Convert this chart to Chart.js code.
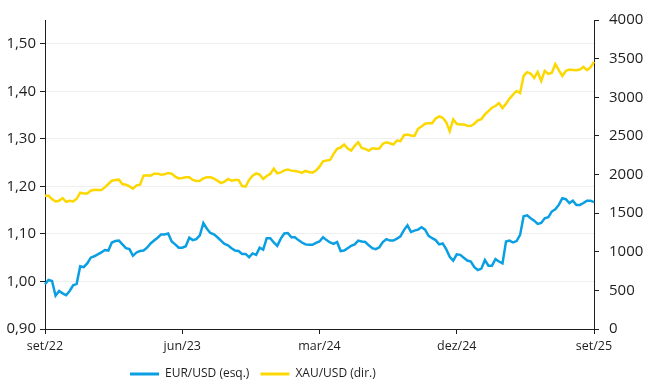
<!DOCTYPE html>
<html>
<head>
<meta charset="utf-8">
<script src="https://cdn.jsdelivr.net/npm/chart.js@4"></script>
<style>
  html, body { margin: 0; padding: 0; background: #fff; }
</style>
</head>
<body>
<canvas id="chart" width="650" height="390"></canvas>
<script>
// weekly closes, set/22 -> set/25 (157 weeks)
const eurUsd = [
  0.994, 1.003, 1.001, 0.970, 0.980, 0.975, 0.971, 0.980, 0.992, 0.995,
  1.032, 1.030, 1.038, 1.050, 1.053, 1.057, 1.061, 1.066, 1.065, 1.082,
  1.085, 1.086, 1.078, 1.070, 1.068, 1.054, 1.061, 1.064, 1.065, 1.071,
  1.080, 1.086, 1.092, 1.099, 1.099, 1.101, 1.084, 1.078, 1.071, 1.071,
  1.074, 1.092, 1.087, 1.089, 1.097, 1.123, 1.111, 1.102, 1.099, 1.093,
  1.086, 1.079, 1.076, 1.070, 1.065, 1.064, 1.058, 1.058, 1.051, 1.059,
  1.056, 1.071, 1.067, 1.091, 1.091, 1.082, 1.075, 1.090, 1.101, 1.102,
  1.093, 1.093, 1.087, 1.082, 1.078, 1.077, 1.077, 1.081, 1.084, 1.093,
  1.087, 1.082, 1.079, 1.083, 1.064, 1.065, 1.070, 1.075, 1.078, 1.086,
  1.084, 1.083, 1.076, 1.070, 1.068, 1.072, 1.083, 1.089, 1.086, 1.086,
  1.090, 1.095, 1.108, 1.118, 1.104, 1.107, 1.109, 1.114, 1.109, 1.096,
  1.091, 1.087, 1.078, 1.080, 1.068, 1.052, 1.044, 1.057, 1.056, 1.050,
  1.044, 1.042, 1.030, 1.024, 1.027, 1.045, 1.033, 1.033, 1.047, 1.042,
  1.038, 1.084, 1.086, 1.082, 1.085, 1.098, 1.137, 1.139, 1.133, 1.128,
  1.121, 1.123, 1.133, 1.135, 1.147, 1.152, 1.161, 1.175, 1.173, 1.165,
  1.170, 1.161, 1.161, 1.165, 1.170, 1.170, 1.167
];

const xauUsd = [
  1725, 1725, 1682, 1651, 1660, 1695, 1647, 1660, 1651, 1686,
  1764, 1755, 1755, 1790, 1803, 1799, 1799, 1833, 1877, 1920,
  1929, 1933, 1877, 1868, 1846, 1816, 1859, 1868, 1985, 1990,
  1985, 2011, 2011, 1998, 2002, 2020, 2011, 1972, 1950, 1955,
  1963, 1963, 1929, 1916, 1920, 1950, 1963, 1963, 1946, 1920,
  1890, 1907, 1942, 1920, 1929, 1929, 1851, 1842, 1929, 1985,
  2015, 1998, 1942, 1981, 2007, 2076, 2015, 2028, 2054, 2063,
  2050, 2046, 2037, 2020, 2046, 2033, 2024, 2050, 2102, 2171,
  2180, 2189, 2267, 2332, 2349, 2388, 2336, 2310, 2371, 2418,
  2345, 2332, 2306, 2340, 2332, 2336, 2397, 2418, 2405, 2388,
  2440, 2431, 2509, 2518, 2505, 2500, 2592, 2622, 2657, 2665,
  2665, 2726, 2752, 2735, 2678, 2561, 2713, 2657, 2648, 2648,
  2631, 2627, 2657, 2700, 2717, 2778, 2821, 2865, 2886, 2925,
  2860, 2917, 2982, 3034, 3081, 3055, 3276, 3324, 3307, 3250,
  3328, 3211, 3341, 3302, 3315, 3428, 3350, 3276, 3341, 3359,
  3354, 3350, 3359, 3393, 3350, 3385, 3458
];

// one tick label every 39 weeks (9 months)
const xTickLabels = ["set/22", "jun/23", "mar/24", "dez/24", "set/25"];
const tickEvery = 39;

const labels = eurUsd.map((_, i) => (i % tickEvery === 0 ? xTickLabels[i / tickEvery] : ""));

const BLUE = "#0a9fe2";
const YELLOW = "#fdd800";
const INK = "#1e1e1e";

Chart.defaults.font.family = "'Open Sans', sans-serif";
Chart.defaults.font.size = 12;
Chart.defaults.color = INK;

// legend sits left of centre in the original, move it after layout
const legendShift = {
  id: "legendShift",
  afterLayout(chart) {
    const lg = chart.legend;
    lg.left = 119;
    lg.right = 650;
  }
};

new Chart(document.getElementById("chart"), {
  type: "line",
  data: {
    labels: labels,
    datasets: [
      {
        label: "EUR/USD (esq.)",
        data: eurUsd,
        borderColor: BLUE,
        backgroundColor: BLUE,
        borderWidth: 2.5,
        pointRadius: 0,
        tension: 0,
        yAxisID: "yL"
      },
      {
        label: "XAU/USD (dir.)",
        data: xauUsd,
        borderColor: YELLOW,
        backgroundColor: YELLOW,
        borderWidth: 2.5,
        pointRadius: 0,
        tension: 0,
        yAxisID: "yR"
      }
    ]
  },
  options: {
    responsive: false,
    animation: false,
    layout: { padding: { top: 20, left: 0, right: 0, bottom: 0 } },
    plugins: {
      tooltip: { enabled: false },
      legend: {
        position: "bottom",
        align: "start",
        labels: {
          boxWidth: 29,
          boxHeight: 3,
          padding: 11,
          font: { size: 12 },
          generateLabels(chart) {
            return chart.data.datasets.map((ds, i) => ({
              text: ds.label,
              fillStyle: ds.borderColor,
              strokeStyle: ds.borderColor,
              lineWidth: 0,
              fontColor: INK,
              datasetIndex: i
            }));
          }
        }
      }
    },
    scales: {
      x: {
        type: "category",
        offset: false,
        grid: {
          drawOnChartArea: false,
          offset: false,
          tickLength: 5,
          tickColor: INK
        },
        border: { color: INK },
        ticks: {
          autoSkip: false,
          maxRotation: 0,
          minRotation: 0,
          padding: 5,
          font: { size: 12.5 },
          callback(v) {
            const l = this.getLabelForValue(v);
            return l === "" ? null : l;
          }
        },
        afterFit(scale) { scale.height = 28; }
      },
      yL: {
        position: "left",
        min: 0.9,
        max: 1.55,
        grid: {
          color: "#efefef",
          tickColor: INK,
          tickLength: 5
        },
        border: { color: INK },
        ticks: {
          stepSize: 0.1,
          includeBounds: false,
          padding: 4,
          font: { size: 15 },
          callback: v => v.toFixed(2).replace(".", ",")
        },
        afterFit(scale) { scale.width = 45; }
      },
      yR: {
        position: "right",
        min: 0,
        max: 4000,
        grid: {
          drawOnChartArea: false,
          tickColor: INK,
          tickLength: 5
        },
        border: { color: INK },
        ticks: {
          stepSize: 500,
          padding: 10,
          font: { size: 15 },
          callback: v => String(v)
        },
        afterFit(scale) { scale.width = 56; }
      }
    }
  },
  plugins: [legendShift]
});
</script>
</body>
</html>
